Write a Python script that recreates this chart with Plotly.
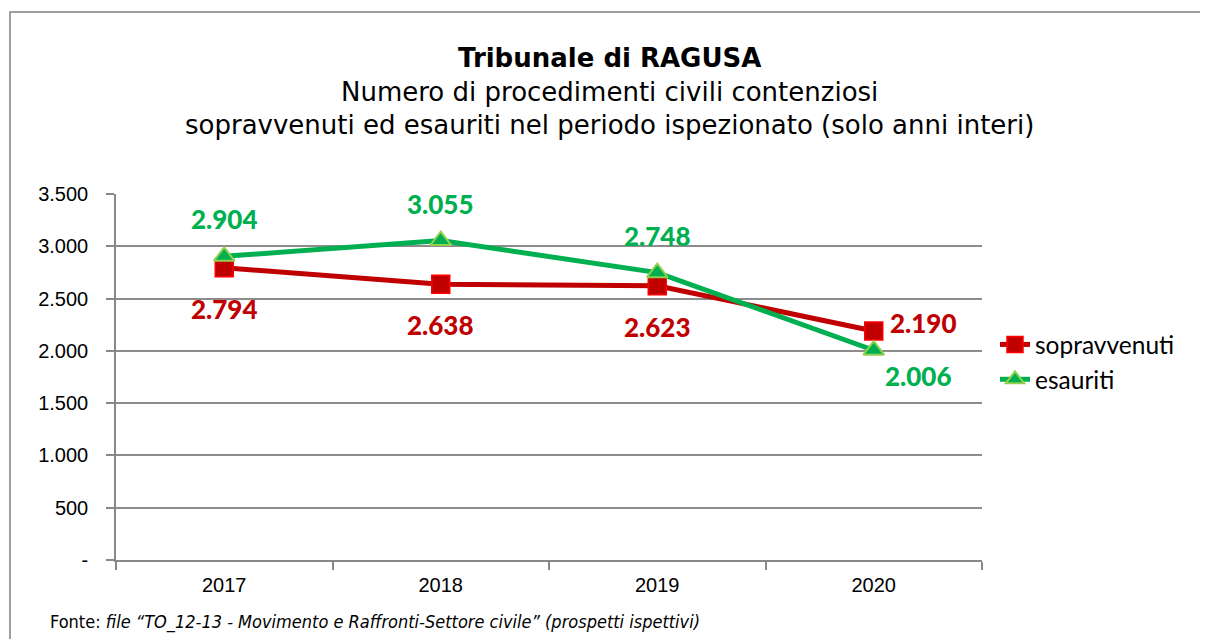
import plotly.graph_objects as go

years = ["2017", "2018", "2019", "2020"]
sopravvenuti = [2794, 2638, 2623, 2190]
esauriti = [2904, 3055, 2748, 2006]
y_ticks = [0, 500, 1000, 1500, 2000, 2500, 3000, 3500]

def fmt(v):
    return "-" if v == 0 else f"{v:,}".replace(",", ".")

RED = "#C00000"
GREEN = "#00B050"

# page-pixel -> paper helpers (plot area spans x 116..982, y 194..560 on the page)
def px(X):
    return (X - 116) / 866

def py(Y):
    return (560 - Y) / 366

fig = go.Figure()
fig.add_trace(go.Scatter(
    x=years, y=sopravvenuti, name="sopravvenuti", mode="lines+markers",
    line=dict(color=RED, width=5),
    marker=dict(symbol="square", size=18, color=RED, line=dict(color="#FF0000", width=1.5)),
))
fig.add_trace(go.Scatter(
    x=years, y=esauriti, name="esauriti", mode="lines+markers",
    line=dict(color=GREEN, width=5),
    marker=dict(symbol="triangle-up", size=18, color=GREEN, line=dict(color="#92D050", width=2)),
))

# data labels
red_shift = [(0, -41), (0, -41), (0, -41), (50, 8)]
green_shift = [(0, 37), (0, 37), (0, 37), (45, -26)]
for i, (v, (dx, dy)) in enumerate(zip(sopravvenuti, red_shift)):
    fig.add_annotation(x=i, y=v, text=fmt(v), showarrow=False, xshift=dx, yshift=dy,
                       xanchor="center", yanchor="middle",
                       font=dict(family="Lato", size=26, color=RED, weight=900))
for i, (v, (dx, dy)) in enumerate(zip(esauriti, green_shift)):
    fig.add_annotation(x=i, y=v, text=fmt(v), showarrow=False, xshift=dx, yshift=dy,
                       xanchor="center", yanchor="middle",
                       font=dict(family="Lato", size=26, color=GREEN, weight=900))

# titles
title_font = dict(family="DejaVu Sans", size=26, color="black")
fig.add_annotation(xref="paper", yref="paper", x=px(609), y=py(58), xanchor="center", yanchor="middle",
                   text="<b>Tribunale di RAGUSA</b>", showarrow=False, font=title_font)
fig.add_annotation(xref="paper", yref="paper", x=px(609), y=py(92), xanchor="center", yanchor="middle",
                   text="Numero di procedimenti civili contenziosi", showarrow=False, font=title_font)
fig.add_annotation(xref="paper", yref="paper", x=px(609), y=py(125), xanchor="center", yanchor="middle",
                   text="sopravvenuti ed esauriti nel periodo ispezionato (solo anni interi)",
                   showarrow=False, font=title_font)
fig.add_annotation(xref="paper", yref="paper", x=px(48), y=py(622), xanchor="left", yanchor="middle",
                   text="Fonte: <i>file \u201cTO_12-13 - Movimento e Raffronti-Settore civile\u201d (prospetti ispettivi)</i>",
                   showarrow=False, font=dict(family="DejaVu Sans Condensed", size=18, color="black"))

# outer border
fig.add_shape(type="rect", xref="paper", yref="paper",
              x0=px(10), x1=px(1240), y0=py(680), y1=py(12),
              line=dict(color="#808080", width=1.5), layer="below")

tick_font = dict(family="Liberation Sans", size=20, color="black")
fig.update_layout(
    width=1200, height=631,
    margin=dict(l=108, r=226, t=186, b=79),
    paper_bgcolor="white", plot_bgcolor="white",
    showlegend=True,
    legend=dict(x=px(995), y=py(322), xanchor="left", yanchor="top",
                font=dict(family="Lato", size=24.5, color="black"), bgcolor="rgba(0,0,0,0)",
                tracegroupgap=0),
    xaxis=dict(type="category", range=[-0.5, 3.5], showgrid=False, showline=True,
               linecolor="#888888", linewidth=1.5,
               ticks="outside", ticklen=8, tickcolor="#888888", tickwidth=1.5,
               tickson="boundaries", tickfont=tick_font, ticklabelstandoff=6),
    yaxis=dict(range=[0, 3500], tickvals=y_ticks, ticktext=[fmt(v) for v in y_ticks],
               showgrid=True, gridcolor="#8C8C8C", gridwidth=1.5,
               showline=True, linecolor="#888888", linewidth=1.5,
               ticks="outside", ticklen=8, tickcolor="#888888", tickwidth=1.5,
               zeroline=False, tickfont=tick_font, ticklabelstandoff=14),
)

fig.write_html("out.html")
